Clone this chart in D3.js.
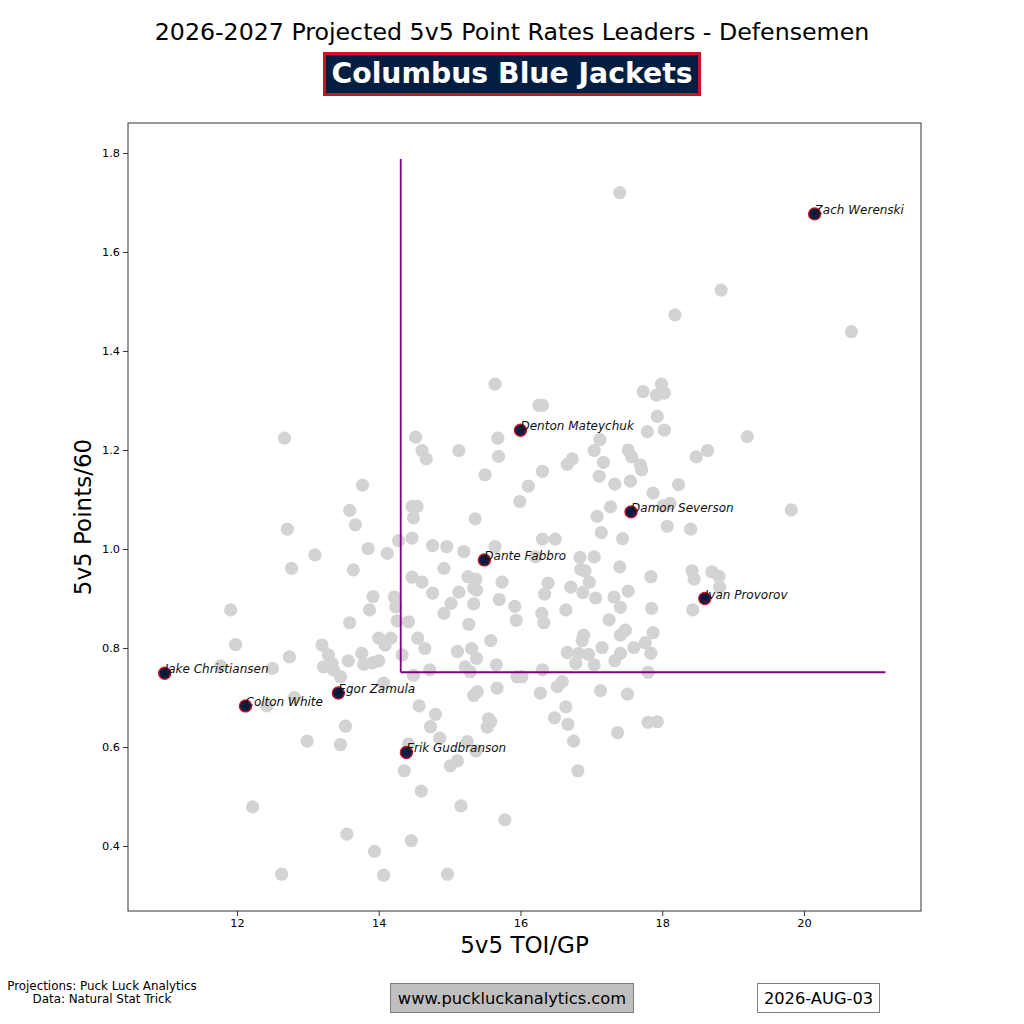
<!DOCTYPE html>
<html>
<head>
<meta charset="utf-8">
<script src="https://cdn.jsdelivr.net/npm/d3@7"></script>
<style>
  html, body { margin: 0; padding: 0; background: #fff; }
  svg { display: block; font-family: "DejaVu Sans", sans-serif; }
</style>
</head>
<body>
<svg id="chart" width="1024" height="1024"></svg>
<script>
// ---------- data ----------
const titleText = "2026-2027 Projected 5v5 Point Rates Leaders - Defensemen";
const teamName = "Columbus Blue Jackets";
const xLabel = "5v5 TOI/GP";
const yLabel = "5v5 Points/60";
const xTicks = [12, 14, 16, 18, 20];
const yTicks = [0.4, 0.6, 0.8, 1.0, 1.2, 1.4, 1.6, 1.8];

// league defensemen (grey)
const leagueToi = [
 17.40,18.83,18.18,20.67,
 12.67,13.77,13.59,13.67,12.71,13.85,14.12,13.10,12.77,13.64,13.92,13.87,11.91,13.59,
 15.64,16.26,16.31,14.52,15.68,14.61,14.67,15.13,15.69,17.12,17.04,17.52,17.57,16.73,16.66,17.17,16.31,15.50,
 17.11,17.33,17.55,16.11,15.99,14.47,14.54,14.49,17.27,17.08,15.36,17.14,17.44,14.47,14.28,16.31,16.49,14.76,
 14.96,15.64,15.20,16.21,16.84,17.04,14.92,16.85,16.91,17.40,14.47,14.61,15.26,15.37,15.34,15.38,15.74,16.39,
 16.97,16.71,14.76,15.13,16.34,16.88,17.06,17.32,17.52,15.02,15.34,15.70,15.92,16.64,17.41,14.92,16.30,14.22,
 14.24,14.26,14.42,15.27,15.94,16.33,17.25,
 17.99,17.92,18.03,17.73,17.93,17.79,18.03,19.20,18.64,18.48,17.69,17.71,18.23,17.87,18.01,18.11,19.82,18.07,
 18.40,17.84,18.42,18.45,18.70,18.80,18.81,17.85,18.43,
 11.98,13.20,13.29,13.34,13.22,13.36,13.46,12.74,13.57,13.76,14.00,14.09,14.17,13.79,13.91,14.00,11.77,12.50,
 14.07,12.81,12.42,13.53,12.99,13.46,12.22,13.55,13.94,12.63,14.07,
 17.48,17.41,16.89,16.87,14.55,14.65,15.58,15.31,15.11,15.38,14.33,16.66,16.82,16.96,16.78,17.04,17.15,17.41,
 17.33,15.22,15.29,15.66,14.72,14.49,16.31,15.95,16.02,16.59,16.52,15.67,15.39,15.34,16.28,17.13,17.51,14.57,
 14.80,16.64,16.48,16.67,15.55,15.58,15.53,14.73,17.37,14.86,15.25,15.37,16.75,14.42,15.11,15.01,14.36,16.81,
 14.60,15.16,15.78,14.46,14.97,
 17.87,17.76,17.60,17.84,17.80,17.80,17.93
];
const leaguePts = [
 1.720,1.523,1.473,1.439,
 1.224,1.129,1.078,1.049,1.040,1.001,0.991,0.988,0.961,0.958,0.904,0.877,0.877,0.851,
 1.333,1.290,1.290,1.226,1.224,1.199,1.182,1.199,1.187,1.221,1.199,1.200,1.186,1.182,1.171,1.175,1.157,1.150,
 1.147,1.131,1.137,1.127,1.096,1.086,1.086,1.063,1.085,1.066,1.061,1.033,1.021,1.022,1.017,1.020,1.020,1.007,
 1.005,1.005,0.995,0.984,0.983,0.984,0.961,0.959,0.956,0.964,0.943,0.933,0.944,0.939,0.921,0.917,0.933,0.931,
 0.933,0.923,0.911,0.913,0.909,0.912,0.901,0.903,0.915,0.890,0.889,0.898,0.884,0.877,0.882,0.870,0.870,0.903,
 0.883,0.855,0.853,0.848,0.856,0.851,0.857,
 1.333,1.311,1.315,1.318,1.268,1.237,1.240,1.227,1.199,1.186,1.170,1.160,1.130,1.113,1.087,1.092,1.079,1.046,
 1.040,0.944,0.956,0.939,0.954,0.945,0.923,0.880,0.877,
 0.807,0.806,0.786,0.769,0.762,0.756,0.742,0.782,0.774,0.789,0.820,0.806,0.820,0.767,0.770,0.774,0.764,0.759,
 0.729,0.700,0.683,0.642,0.612,0.605,0.479,0.424,0.389,0.343,0.341,
 0.836,0.826,0.826,0.815,0.820,0.799,0.815,0.799,0.793,0.779,0.786,0.791,0.789,0.787,0.769,0.766,0.801,0.789,
 0.774,0.762,0.752,0.766,0.756,0.745,0.756,0.742,0.742,0.732,0.722,0.719,0.712,0.704,0.709,0.714,0.707,0.683,
 0.666,0.681,0.659,0.646,0.657,0.651,0.640,0.641,0.629,0.618,0.611,0.592,0.612,0.606,0.572,0.562,0.552,0.552,
 0.511,0.481,0.453,0.411,0.343,
 0.831,0.811,0.801,0.789,0.751,0.650,0.651
];

// team players (highlighted)
const playerNames = ["Zach Werenski","Denton Mateychuk","Damon Severson","Dante Fabbro","Ivan Provorov",
                     "Jake Christiansen","Egor Zamula","Colton White","Erik Gudbranson"];
const playerToi = [20.15, 16.00, 17.56, 15.49, 18.60, 10.98, 13.43, 12.12, 14.39];
const playerPts = [1.677, 1.240, 1.075, 0.978, 0.900, 0.749, 0.709, 0.683, 0.589];

// reference lines
const refToi = 14.31;
const refPts = 0.751;
const refToiMax = 21.15;
const refPtsMax = 1.788;

const footerLeft = ["Projections: Puck Luck Analytics", "Data: Natural Stat Trick"];
const website = "www.puckluckanalytics.com";
const dateText = "2026-AUG-03";

// ---------- layout ----------
const svg = d3.select("#chart");
const L = 128, R = 921, T = 123, B = 911;
const x = d3.scaleLinear().domain([10.462, 21.651]).range([L, R]);
const y = d3.scaleLinear().domain([0.2687, 1.8606]).range([B, T]);

const navy = "#041E42", red = "#CE1126";

// title
svg.append("text").attr("x", 512).attr("y", 40).attr("text-anchor", "middle")
  .attr("font-size", 23.7).attr("fill", "#000").text(titleText);

// team box
svg.append("rect").attr("x", 324.5).attr("y", 53.5).attr("width", 375).attr("height", 41)
  .attr("fill", navy).attr("stroke", red).attr("stroke-width", 3);
svg.append("text").attr("x", 512).attr("y", 83).attr("text-anchor", "middle")
  .attr("font-size", 28.3).attr("font-weight", "bold").attr("fill", "#fff").text(teamName);

// axes
const gx = svg.append("g").attr("transform", `translate(0,${B})`)
  .call(d3.axisBottom(x).tickValues(xTicks).tickFormat(d3.format("d")).tickSizeOuter(0).tickSize(5).tickPadding(3));
const gy = svg.append("g").attr("transform", `translate(${L},0)`)
  .call(d3.axisLeft(y).tickValues(yTicks).tickFormat(d3.format(".1f")).tickSizeOuter(0).tickSize(5).tickPadding(3));
[gx, gy].forEach(g => {
  g.select(".domain").remove();
  g.selectAll("text").attr("font-size", 11.3).attr("fill", "#000").attr("font-family", "DejaVu Sans, sans-serif");
  g.selectAll("line").attr("stroke", "#000").attr("stroke-width", 0.8);
});

// frame
svg.append("rect").attr("x", L).attr("y", T).attr("width", R - L).attr("height", B - T)
  .attr("fill", "none").attr("stroke", "#333").attr("stroke-width", 1);

// axis labels
svg.append("text").attr("x", (L + R) / 2).attr("y", 953).attr("text-anchor", "middle")
  .attr("font-size", 23).text(xLabel);
svg.append("text").attr("transform", `translate(91,${(T + B) / 2}) rotate(-90)`).attr("text-anchor", "middle")
  .attr("font-size", 23).text(yLabel);

// clip
svg.append("clipPath").attr("id", "plotclip").append("rect")
  .attr("x", L).attr("y", T).attr("width", R - L).attr("height", B - T);
const plot = svg.append("g").attr("clip-path", "url(#plotclip)");

// league points
plot.selectAll("circle.lg").data(leagueToi.map((v, i) => [v, leaguePts[i]])).enter()
  .append("circle").attr("class", "lg")
  .attr("cx", d => x(d[0])).attr("cy", d => y(d[1])).attr("r", 6.6)
  .attr("fill", "#d3d3d3");

// reference lines
plot.append("line").attr("x1", x(refToi)).attr("x2", x(refToi)).attr("y1", y(refPts)).attr("y2", y(refPtsMax))
  .attr("stroke", "#800080").attr("stroke-width", 1.8);
plot.append("line").attr("x1", x(refToi)).attr("x2", x(refToiMax)).attr("y1", y(refPts)).attr("y2", y(refPts))
  .attr("stroke", "#800080").attr("stroke-width", 1.8);

// team points
const team = playerNames.map((n, i) => ({ n, t: playerToi[i], p: playerPts[i] }));
plot.selectAll("circle.tm").data(team).enter().append("circle").attr("class", "tm")
  .attr("cx", d => x(d.t)).attr("cy", d => y(d.p)).attr("r", 6)
  .attr("fill", navy).attr("stroke", red).attr("stroke-width", 1.4);
plot.selectAll("text.tm").data(team).enter().append("text").attr("class", "tm")
  .attr("x", d => x(d.t)).attr("y", d => y(d.p))
  .attr("font-size", 12).attr("font-style", "italic").attr("fill", "#111").text(d => d.n);

// footer
svg.append("text").attr("x", 102).attr("y", 990).attr("text-anchor", "middle").attr("font-size", 11.9).text(footerLeft[0]);
svg.append("text").attr("x", 102).attr("y", 1003).attr("text-anchor", "middle").attr("font-size", 11.9).text(footerLeft[1]);

svg.append("rect").attr("x", 390.5).attr("y", 983.5).attr("width", 243).attr("height", 29)
  .attr("fill", "#bfbfbf").attr("stroke", "#7f7f7f").attr("stroke-width", 1);
svg.append("text").attr("x", 512).attr("y", 1004).attr("text-anchor", "middle").attr("font-size", 16.3).text(website);

svg.append("rect").attr("x", 757.5).attr("y", 983.5).attr("width", 122).attr("height", 29)
  .attr("fill", "#fff").attr("stroke", "#7f7f7f").attr("stroke-width", 1);
svg.append("text").attr("x", 818.5).attr("y", 1004).attr("text-anchor", "middle").attr("font-size", 16.3).text(dateText);
</script>
</body>
</html>
